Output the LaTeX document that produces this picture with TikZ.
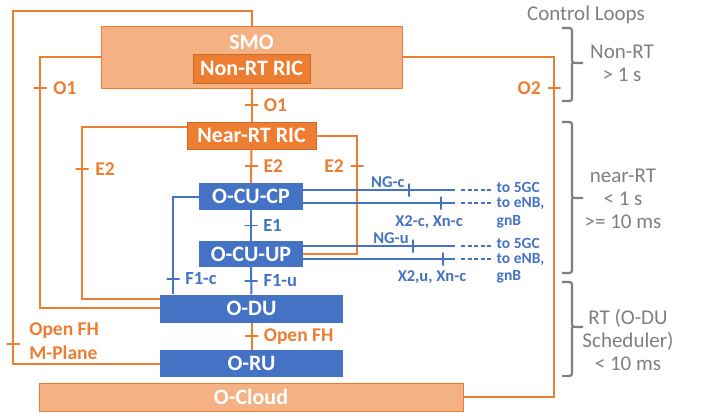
\documentclass[tikz,border=0pt]{standalone}
\usepackage{fontspec}
\setmainfont{Carlito}
\definecolor{oran}{HTML}{ED7D31}
\definecolor{lightoran}{HTML}{F4B183}
\definecolor{oblue}{HTML}{4472C4}
\definecolor{loopgray}{HTML}{7F7F7F}

% brace of the control loops: top, tip, bottom
\newcommand{\loopbrace}[3]{
  \draw[loopgray, line width=2.2pt, rounded corners=2.5pt]
    (562,#1) -- (572,#1) -- (572,#2) -- (583,#2);
  \draw[loopgray, line width=2.2pt, rounded corners=2.5pt]
    (572,#2) -- (572,#3) -- (562,#3);
}

\begin{document}
\begin{tikzpicture}[x=1pt, y=-1pt,
    box/.style={rectangle, inner sep=0pt, text=white, font=\fontsize{22}{22}\selectfont\bfseries},
    smobox/.style={box, fill=lightoran, draw=oran, line width=0.6pt},
    ricbox/.style={box, fill=oran, draw=oran!85!black, line width=0.5pt},
    dubox/.style={box, fill=oblue},
    orline/.style={oran, line width=2pt, font=\fontsize{19.5}{24}\selectfont\bfseries},
    blline/.style={oblue, line width=2pt, font=\fontsize{18.5}{22}\selectfont\bfseries},
    crossh/.style={draw, inner sep=0pt, minimum width=13pt, minimum height=0pt, line width=1.6pt},
    crossv/.style={draw, inner sep=0pt, minimum width=0pt, minimum height=13pt, line width=1.6pt},
    iflab/.style={text=oblue, inner sep=0.5pt, font=\fontsize{16.5}{19}\selectfont\bfseries},
    bllab/.style={text=oblue, inner sep=0.5pt, text height=8.5pt, text depth=2pt, font=\fontsize{15.5}{18}\selectfont\bfseries},
    looptext/.style={text=loopgray, align=center, font=\fontsize{21}{23}\selectfont}]
  \useasboundingbox (0,0) rectangle (701,416);

  \node[smobox, minimum width=301pt, minimum height=62pt] (smo) at (251.5,57) {};
  \node[box] (smolabel) at (251.5,42) {SMO};
  \node[ricbox, minimum width=117pt, minimum height=29pt] (nonrt) at (251.5,68.5) {Non-RT RIC};
  \node[ricbox, minimum width=129pt, minimum height=27pt] (nearrt) at (251.5,135.5) {Near-RT RIC};
  \node[dubox, minimum width=104pt, minimum height=27pt] (cucp) at (251,196.5) {O-CU-CP};
  \node[dubox, minimum width=104pt, minimum height=26pt] (cuup) at (251,254) {O-CU-UP};
  \node[dubox, minimum width=183pt, minimum height=28pt] (odu) at (251.5,308.5) {O-DU};
  \node[dubox, minimum width=183pt, minimum height=27pt] (oru) at (251.5,363.5) {O-RU};
  \node[smobox, minimum width=424pt, minimum height=28pt] (ocloud) at (251,397) {O-Cloud};

  % orange interfaces
  \draw[orline] (smo.north) |- (13,11) -- (13,344) node[crossh]{}
    node[right=12pt, align=left, yshift=3pt]{Open FH\\M-Plane} |- (oru.west);
  \draw[orline] (smo.west) -| (40,88) node[crossh]{} node[right=9pt]{O1} |- (odu.west |- 0,308);
  \draw[orline] (nearrt.west |- 0,127) -| (82,169) node[crossh]{} node[right=9pt]{E2} |- (odu.west |- 0,299);
  \draw[orline] (nearrt.east) -| (357,166) node[crossh]{} node[left=9pt]{E2} |- (cuup.east);
  \draw[orline] (smo.east) -| (554,88) node[crossh]{} node[left=9pt]{O2} |- (ocloud.east);
  \draw[orline] (smo) -- node[crossh]{} node[right=8pt]{O1} (nearrt);
  \draw[orline] (nearrt) -- node[crossh]{} node[right=8pt]{E2} (cucp);
  \draw[orline] (odu) -- node[crossh]{} node[right=8pt]{Open FH} (oru);

  % blue interfaces
  \draw[blline] (cucp) -- node[crossh]{} node[right=8pt]{E1} (cuup);
  \draw[blline] (cuup) -- node[crossh]{} node[right=8pt]{F1-u} (odu);
  \draw[blline] (cucp.west) -| (173,279) node[crossh]{} node[right=8pt]{F1-c} -- (odu.north -| 173,0);

  \coordinate (ngcend) at (455,190);
  \coordinate (xncend) at (455,203);
  \coordinate (nguend) at (455,246);
  \coordinate (xnuend) at (455,259);
  \node[bllab, anchor=west] (tocorec) at (496,189) {to 5GC};
  \node[bllab, anchor=west] (toenbc) at (496,204) {to eNB,};
  \node[bllab, anchor=west] (gnbc) at (496,222) {gnB};
  \node[bllab, anchor=west] (tocoreu) at (496,245) {to 5GC};
  \node[bllab, anchor=west] (toenbu) at (496,260) {to eNB,};
  \node[bllab, anchor=west] (gnbu) at (496,277) {gnB};
  \node[iflab] (xnc) at (429,222) {X2-c, Xn-c};
  \node[iflab] (xnu) at (432,277) {X2,u, Xn-c};

  \draw[blline] (cucp.east |- ngcend) -- node[pos=0.697, crossv]{}
    node[pos=0.697, iflab, above left=1pt, xshift=-2pt]{NG-c} (ngcend);
  \draw[blline] (cucp.east |- xncend) -- node[pos=0.908, crossv]{} (xncend);
  \draw[blline] (cuup.east |- nguend) -- node[pos=0.724, crossv]{}
    node[pos=0.724, iflab, above left=1pt, xshift=-2pt]{NG-u} (nguend);
  \draw[blline] (cuup.east |- xnuend) -- node[pos=0.921, crossv]{} (xnuend);
  \foreach \e/\t in {ngcend/tocorec, xncend/toenbc, nguend/tocoreu, xnuend/toenbu}
    \draw[oblue, line width=1.5pt, dash pattern=on 4pt off 2.5pt] ([xshift=6pt]\e) -- ([xshift=-3pt]\t.west |- \e);

  % control loops
  \node[looptext] (loops) at (586,15) {Control Loops};
  \node[looptext] (nonrtloop) at (622,63.5) {Non-RT\\> 1 s};
  \node[looptext] (nearrtloop) at (623,198.5) {near-RT\\< 1 s\\>= 10 ms};
  \node[looptext] (rtloop) at (628,340) {RT (O-DU\\Scheduler)\\< 10 ms};
  \loopbrace{28}{63}{101}
  \loopbrace{122}{198}{273}
  \loopbrace{282}{327}{376}
\end{tikzpicture}
\end{document}
